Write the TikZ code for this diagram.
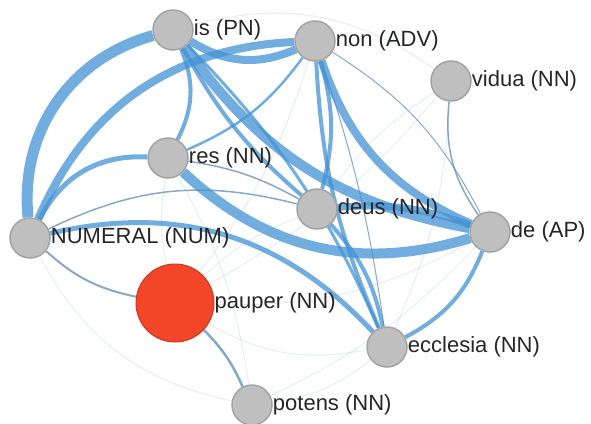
\documentclass[tikz,border=0pt]{standalone}
\usepackage{fontspec}
\setmainfont{Liberation Sans}
\usetikzlibrary{backgrounds}
\definecolor{linkblue}{RGB}{66,146,211}
\definecolor{thinblue}{RGB}{84,132,178}
\definecolor{nodegray}{RGB}{191,191,191}
\definecolor{nodeedge}{RGB}{163,163,163}
\definecolor{hotred}{RGB}{243,69,40}
\definecolor{hotedge}{RGB}{196,58,38}
\begin{document}
\begin{tikzpicture}[x=1pt, y=1pt,
  word/.style = {circle, draw=nodeedge, fill=nodegray, line width=1.5pt, minimum size=40pt, inner sep=0pt, label distance=3pt},
  hub/.style = {word, draw=hotedge, fill=hotred, line width=1pt, minimum size=78pt},
  every label/.style = {font=\fontsize{22}{26}\selectfont, text=black!85, inner sep=0pt},
  wlink/.style = {draw=linkblue, draw opacity=.75, line width=#1},
  tlink/.style = {draw=thinblue, draw opacity=.7, line width=#1},
  flink/.style = {draw=thinblue, draw opacity=.15, line width=1pt}]
  \useasboundingbox (0,0) rectangle (591,-423);
  % words of the network
  \node[word, label=0:is (PN)] (is) at (173,-30) {};
  \node[word, label=0:non (ADV)] (non) at (315,-41) {};
  \node[word, label=0:vidua (NN)] (vidua) at (451,-81) {};
  \node[word, label=0:res (NN)] (res) at (168,-158) {};
  \node[word, label=0:deus (NN)] (deus) at (317,-209) {};
  \node[word, label=0:de (AP)] (de) at (490,-232) {};
  \node[word, label=0:NUMERAL (NUM)] (num) at (30,-238) {};
  \node[hub, label=0:pauper (NN)] (pauper) at (175,-303) {};
  \node[word, label=0:ecclesia (NN)] (ecclesia) at (387,-347) {};
  \node[word, label=0:potens (NN)] (potens) at (252,-405) {};
  \begin{pgfonlayer}{background}
    % faint links
    \draw[flink] (is) to[bend left=25] (vidua);
    \draw[flink] (pauper) to[bend right=15] (de);
    \draw[flink] (pauper) to[bend right=20] (ecclesia);
    \draw[flink] (pauper) to[bend left=10] (deus);
    \draw[flink] (pauper) to[bend left=10] (res);
    \draw[flink] (pauper) to[bend right=10] (non);
    \draw[flink] (pauper) to[bend right=10] (vidua);
    \draw[flink] (potens) to[bend right=15] (ecclesia);
    \draw[flink] (potens) to[bend right=10] (de);
    \draw[flink] (num) to[bend right=25] (potens);
    \draw[flink] (vidua) to[bend right=10] (deus);
    \draw[flink] (vidua) to[bend left=10] (ecclesia);
    \draw[flink] (res) to[bend left=10] (potens);
    % thin links
    \draw[tlink=1.5pt] (num) to[bend left=20] (deus);
    \draw[tlink=2pt] (num) to[bend right=15] (pauper);
    \draw[tlink=2.5pt] (pauper) to[bend left=10] (potens);
    \draw[tlink=1.5pt] (vidua) to[bend right=20] (de);
    \draw[tlink=1pt] (non) to[bend left=15] (de);
    \draw[tlink=1.5pt] (res) to[bend left=10] (deus);
    \draw[tlink=1pt] (non) to[bend left=5] (ecclesia);
    % weighted links
    \draw[wlink=11pt] (is) to[bend right=40] (num);
    \draw[wlink=8pt] (non) to[bend right=32] (num);
    \draw[wlink=8pt] (is) to[bend right=28] (non);
    \draw[wlink=10pt] (is) to[bend right=22] (de);
    \draw[wlink=10pt] (res) to[bend right=30] (de);
    \draw[wlink=8pt] (non) to[bend right=24] (de);
    \draw[wlink=7pt] (de) to[bend right=12] (deus);
    \draw[wlink=4pt] (is) to[bend left=25] (res);
    \draw[wlink=4pt] (is) to[bend right=10] (deus);
    \draw[wlink=3pt] (is) to[bend left=10] (ecclesia);
    \draw[wlink=5pt] (res) to[bend right=33] (num);
    \draw[wlink=2.5pt] (res) to[bend right=15] (non);
    \draw[wlink=4pt] (non) to[bend left=15] (deus);
    \draw[wlink=4pt] (non) to[bend right=10] (ecclesia);
    \draw[wlink=4pt] (deus) to[bend left=15] (ecclesia);
    \draw[wlink=5pt] (num) to[bend left=30] (ecclesia);
    \draw[wlink=4pt] (de) to[bend left=20] (ecclesia);
  \end{pgfonlayer}
\end{tikzpicture}
\end{document}
